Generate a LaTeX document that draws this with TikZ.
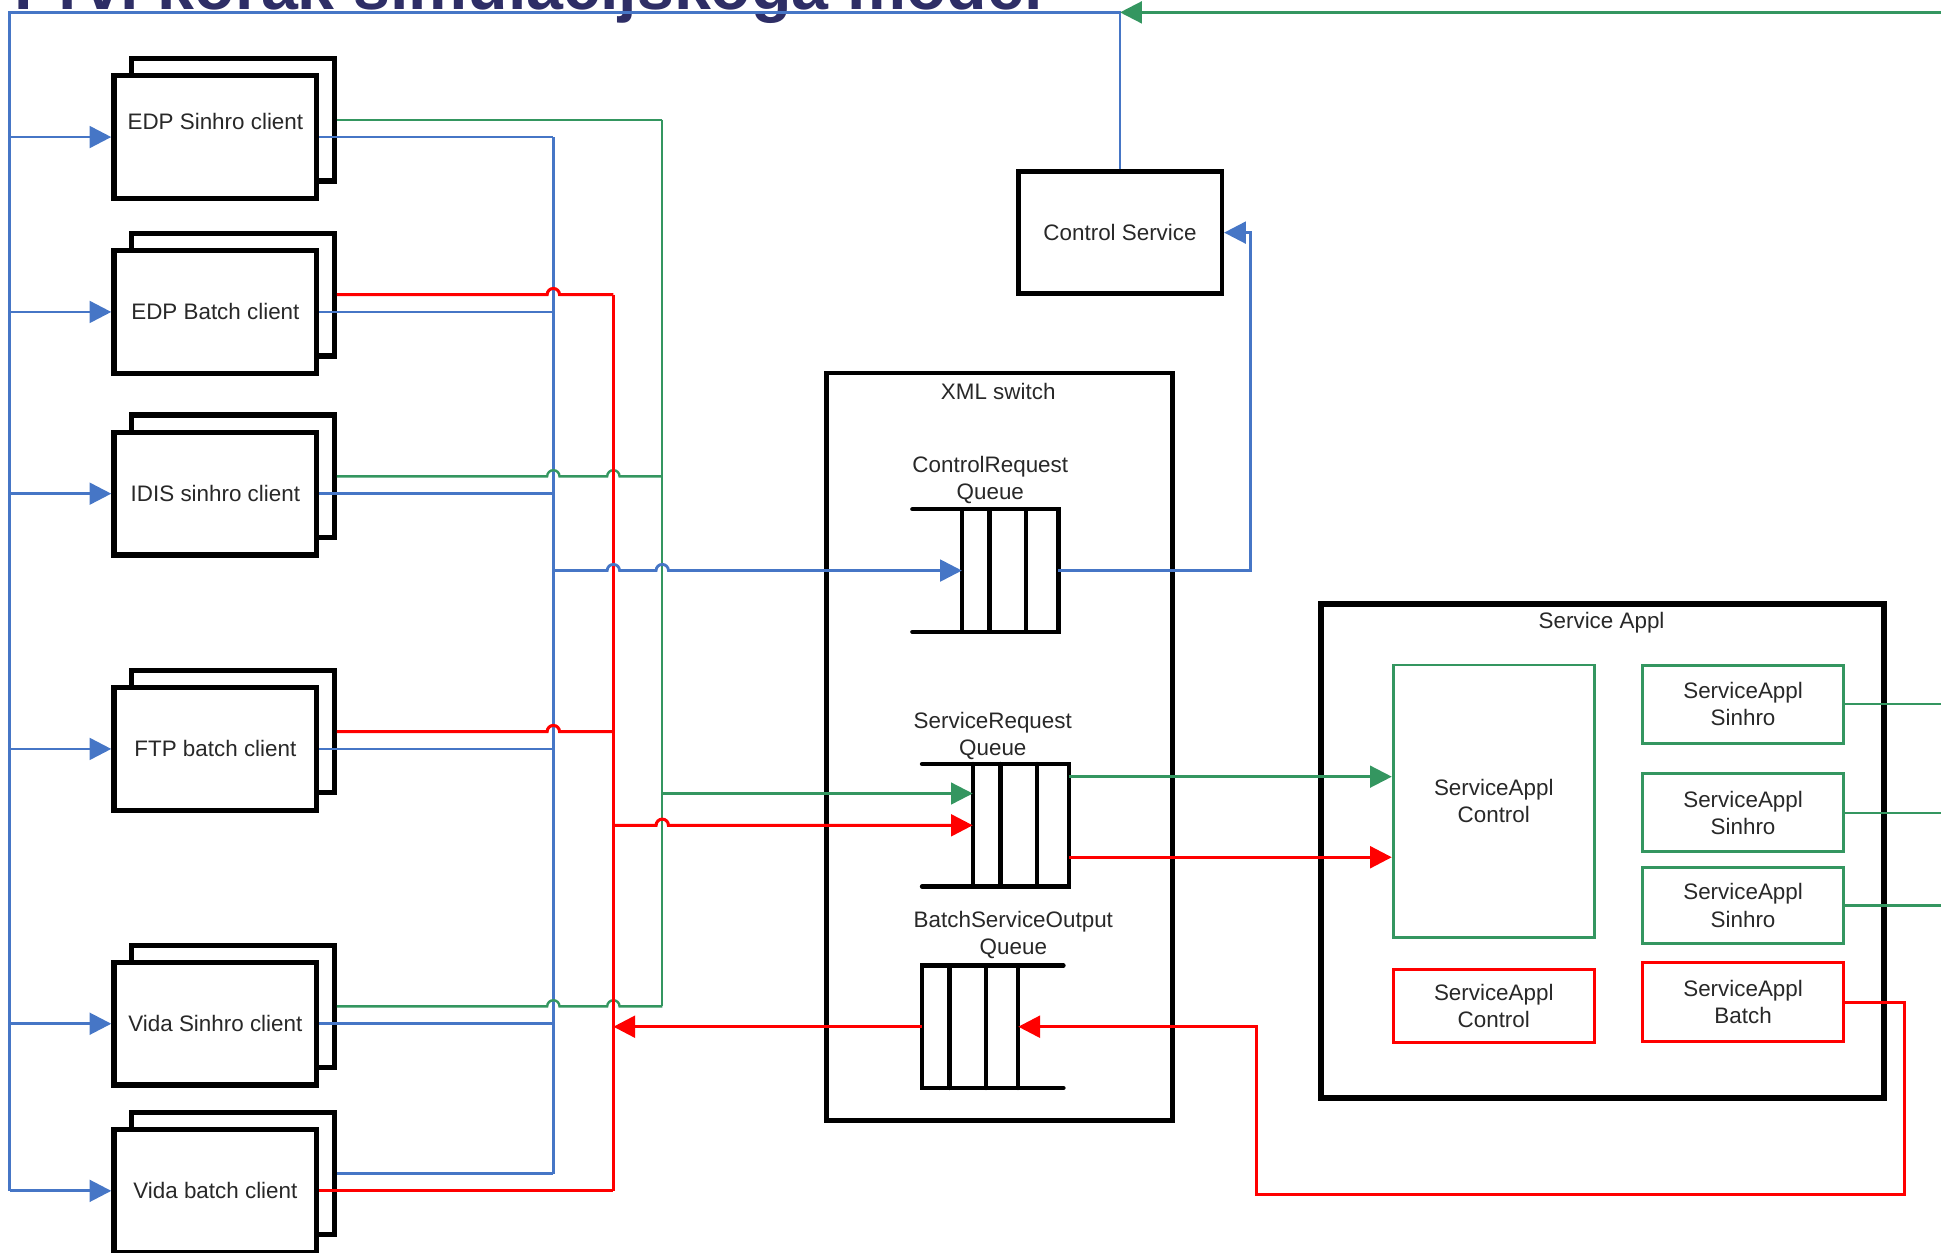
\documentclass[tikz,border=0pt]{standalone}
\usepackage{fontspec}
\setmainfont{Liberation Sans}
\usepackage{tikz}
\usetikzlibrary{arrows.meta,positioning,calc}
\definecolor{linkblue}{RGB}{70,118,198}
\definecolor{linkgreen}{RGB}{52,150,96}
\definecolor{linkred}{RGB}{255,0,0}
\definecolor{titleblue}{RGB}{46,46,102}
\definecolor{txtgray}{RGB}{40,40,40}

\tikzset{
  client/.style={draw, line width=2.4pt, fill=white, minimum width=3.28cm, minimum height=1.98cm, inner sep=0pt},
  blackbox/.style={draw, line width=2.1pt, inner sep=0pt},
  lbl/.style={inner sep=0pt, text=txtgray, font=\fontsize{10.3}{12.5}\selectfont, align=center},
  gbox/.style={draw=linkgreen, line width=1.3pt, minimum width=3.25cm, inner sep=0pt, lbl},
  rbox/.style={gbox, draw=linkred},
  qbody/.style={minimum width=1.56cm, minimum height=1.98cm, inner sep=0pt, outer sep=0pt},
  qline/.style={line width=2pt, line cap=round},
  bline/.style={linkblue, line width=1.3pt},
  gline/.style={linkgreen, line width=1.1pt},
  rline/.style={linkred, line width=1.4pt}
}

\begin{document}
\begin{tikzpicture}[x=0.02cm, y=-0.02cm, >={Triangle[length=10pt,width=10pt]}]
    \useasboundingbox (0,0) rectangle (1568,1012);
    \clip (0,0) rectangle (1568,1012);

    % Title, cut by the top edge
    \node[anchor=base west, inner sep=0pt, text=titleblue, font=\fontsize{30.5}{32}\selectfont\bfseries] (ttl) at (11,8) {Prvi korak simulacijskoga model};

    % Clients (back sheet, then front sheet)
    \foreach \nm/\yy/\dy/\txt in {c1/110.7/0.25/EDP Sinhro client, c2/252/0/EDP Batch client, c3/398.8/0/IDIS sinhro client, c4/605/0/FTP batch client, c5/827/0/Vida Sinhro client, c6/962/0/Vida batch client} {
        \node[client] (\nm b) at (188,\yy-14) {};
        \node[client, label={[lbl, yshift=\dy cm]center:\txt}] (\nm) at (174,\yy) {};
    }

    % Big frames
    \node[blackbox, minimum width=3.29cm, minimum height=1.966cm, lbl] (cs) at (904.8,187.9) {Control Service};
    \node[blackbox, minimum width=5.584cm, minimum height=12.08cm] (xml) at (807.4,603.3) {};
    \node[lbl] (xmllbl) at (806.4,316) {XML switch};
    \node[blackbox, line width=2.5pt, minimum width=9.1cm, minimum height=7.98cm] (sa) at (1294.5,687.5) {};
    \node[lbl] (salbl) at (1293.8,503) {Service Appl};

    % Service Appl parts
    \node[gbox, minimum height=4.4cm] (sac) at (1206.7,647.2) {ServiceAppl\\Control};
    \node[gbox, minimum height=1.26cm] (sas1) at (1408.1,568.8) {ServiceAppl\\Sinhro};
    \node[gbox, minimum height=1.26cm] (sas2) at (1408.1,656.6) {ServiceAppl\\Sinhro};
    \node[gbox, minimum height=1.24cm] (sas3) at (1408.1,731.5) {ServiceAppl\\Sinhro};
    \node[rbox, minimum height=1.18cm] (sacr) at (1206.7,812.6) {ServiceAppl\\Control};
    \node[rbox, minimum height=1.27cm] (sab) at (1408.1,809.5) {ServiceAppl\\Batch};

    % Queues
    \node[qbody] (crq) at (816,460.9) {};
    \node[qbody] (srq) at (824.8,666.7) {};
    \node[qbody] (bsoq) at (783.6,829.4) {};
    \node[lbl] (crqlbl) at (800,387.5) {ControlRequest\\Queue};
    \node[lbl] (srqlbl) at (802,594.5) {ServiceRequest\\Queue};
    \node[lbl] (bsoqlbl) at (818.6,755) {BatchServiceOutput\\Queue};
    \foreach \q/\arm in {crq/-0.8, srq/-0.82} {
        \draw[qline] ([xshift=\arm cm]\q.north west) -- (\q.north east) -- (\q.south east) -- ([xshift=\arm cm]\q.south west);
        \foreach \dx in {0,0.446,1.04}
            \draw[qline] ([xshift=\dx cm]\q.north west) -- ([xshift=\dx cm]\q.south west);
    }
    \draw[qline] ([xshift=0.73cm]bsoq.north east) -- (bsoq.north west) -- (bsoq.south west) -- ([xshift=0.73cm]bsoq.south east);
    \foreach \dx in {0.446,1.04,1.56}
        \draw[qline] ([xshift=\dx cm]bsoq.north west) -- ([xshift=\dx cm]bsoq.south west);

    % Bus positions and free ends
    \coordinate (lbus) at (8,10);
    \coordinate (bbus) at (447,0);
    \coordinate (rbus) at (495.5,0);
    \coordinate (gbus) at (535,0);
    \coordinate (rim) at (1580,10);
    \coordinate (ctop) at (cs.north |- lbus);
    \coordinate (bback) at (1015,965);
    \coordinate (srqgin) at ([yshift=0.514cm]srq.west);
    \coordinate (srqgout) at ([yshift=0.786cm]srq.east);
    \coordinate (srqrout) at ([yshift=-0.516cm]srq.east);

    % Control Service back to the clients
    \draw[bline] (cs.north) -- (ctop) -- (lbus) -- (lbus |- c6.west);
    \draw[gline,->] (rim) -- (ctop);
    \foreach \nm in {c1,c2,c3,c4,c5,c6}
        \draw[bline,->] (lbus |- \nm.west) -- (\nm.west);

    % Blue client outputs
    \foreach \nm in {c1,c2,c3,c4,c5}
        \draw[bline] (\nm.east) -- (bbus |- \nm.east);
    \draw[bline] (c6b.east) -- (bbus |- c6b.east);
    \draw[bline] (bbus |- c1.east) -- (bbus |- c6b.east);

    % Green client outputs
    \draw[gline] (c1b.east) -- (gbus |- c1b.east);
    \foreach \nm in {c3b,c5b}
        \draw[gline] (\nm.east) -- ([xshift=-1mm]bbus |- \nm.east) arc[start angle=180, end angle=0, radius=1mm]
            -- ([xshift=-1mm]rbus |- \nm.east) arc[start angle=180, end angle=0, radius=1mm] -- (gbus |- \nm.east);
    \draw[gline] (gbus |- c1b.east) -- (gbus |- c5b.east);

    % Red client outputs
    \foreach \nm in {c2b,c4b}
        \draw[rline] (\nm.east) -- ([xshift=-1mm]bbus |- \nm.east) arc[start angle=180, end angle=0, radius=1mm] -- (rbus |- \nm.east);
    \draw[rline] (c6.east) -- (rbus |- c6.east);
    \draw[rline] (rbus |- c2b.east) -- (rbus |- c6.east);

    % Buses into the XML switch
    \draw[bline,->] (bbus |- crq.west) -- ([xshift=-1mm]rbus |- crq.west) arc[start angle=180, end angle=0, radius=1mm]
        -- ([xshift=-1mm]gbus |- crq.west) arc[start angle=180, end angle=0, radius=1mm] -- (crq.west);
    \draw[gline,->] (gbus |- srqgin) -- (srqgin);
    \draw[rline,->] (rbus |- srq.west) -- ([xshift=-1mm]gbus |- srq.west) arc[start angle=180, end angle=0, radius=1mm] -- (srq.west);
    \draw[rline,->] (bsoq.west) -- (rbus |- bsoq.west);

    % XML switch to services
    \draw[bline,->] (crq.east) -- ++(155,0) |- (cs.east);
    \draw[gline,->] (srqgout) -- (srqgout -| sac.west);
    \draw[rline,->] (srqrout) -- (srqrout -| sac.west);
    \foreach \nm in {sas1,sas2,sas3}
        \draw[gline] (\nm.east) -- (\nm.east -| rim);
    \draw[rline,->] (sab.east) -- ++(48,0) |- (bback) |- (bsoq.east);
\end{tikzpicture}
\end{document}
